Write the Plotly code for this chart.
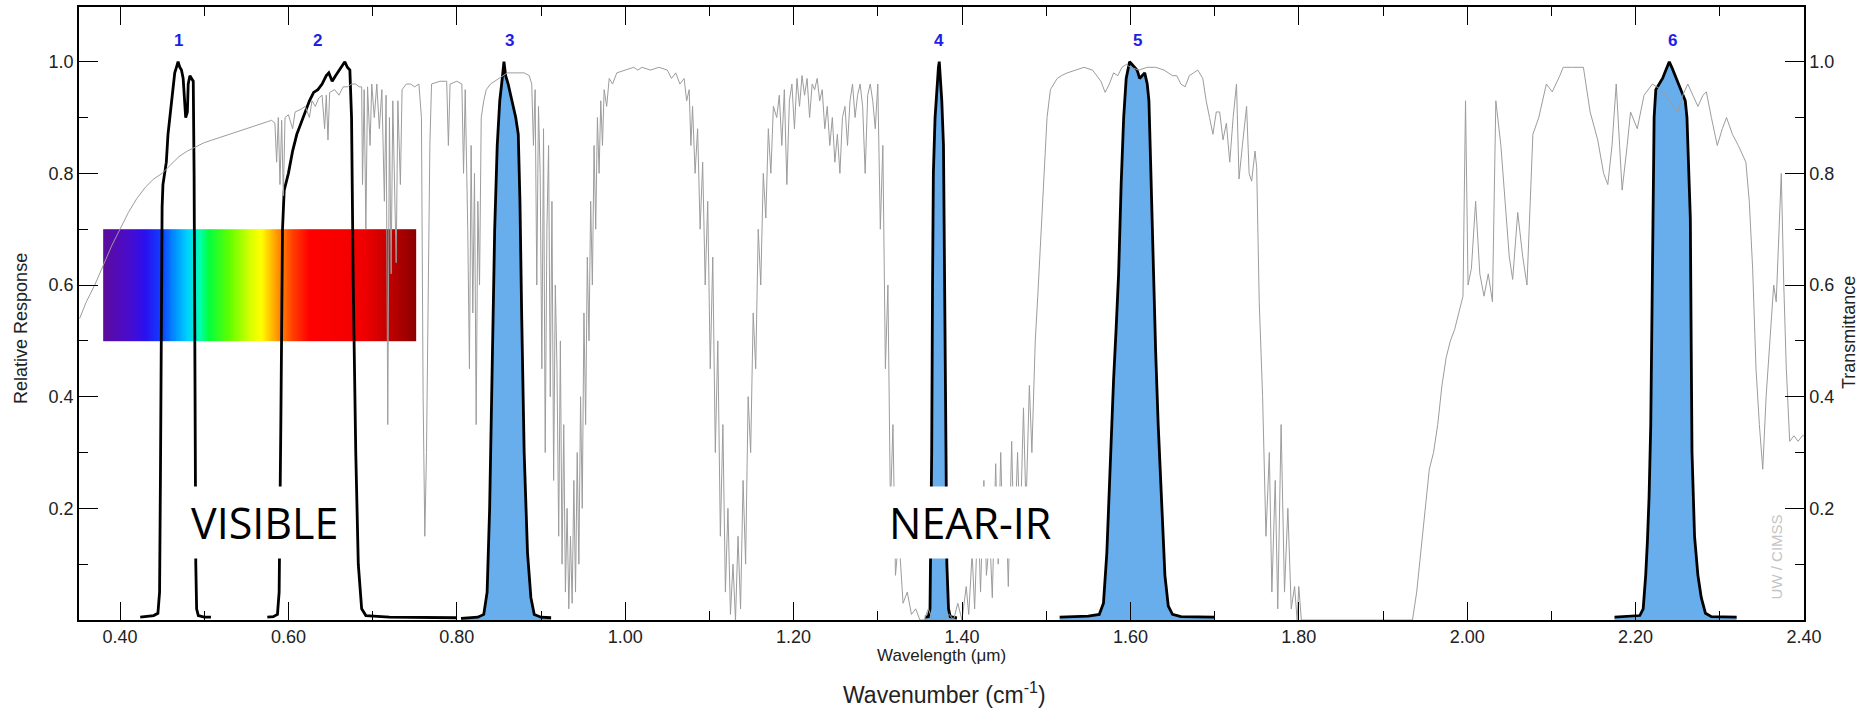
import numpy as np
import plotly.graph_objects as go

# ---------------- data ----------------
band_names = ["1", "2", "3", "4", "5", "6"]
band_label_x = [0.470, 0.634, 0.862, 1.373, 1.608, 2.244]
band_label_y = 1.038
band_filled = [False, False, True, True, True, True]

band1_wl = [0.424, 0.432, 0.440, 0.445, 0.447, 0.448, 0.449, 0.450, 0.451, 0.453, 0.455, 0.457, 0.459, 0.461,
            0.463, 0.465, 0.467, 0.469, 0.471, 0.473, 0.475, 0.477, 0.478, 0.480, 0.481, 0.483, 0.485,
            0.487, 0.488, 0.489, 0.490, 0.491, 0.493, 0.500, 0.508]
band1_rsr = [0.005, 0.006, 0.008, 0.012, 0.05, 0.25, 0.55, 0.74, 0.78, 0.80, 0.82, 0.87, 0.90, 0.93,
             0.96, 0.98, 0.99, 1.00, 0.99, 0.985, 0.97, 0.93, 0.90, 0.91, 0.96, 0.975, 0.97,
             0.965, 0.80, 0.40, 0.10, 0.02, 0.008, 0.005, 0.005]

band2_wl = [0.575, 0.582, 0.587, 0.589, 0.591, 0.593, 0.595, 0.600, 0.605, 0.610, 0.615, 0.620, 0.625,
            0.630, 0.635, 0.640, 0.645, 0.648, 0.652, 0.656, 0.660, 0.664, 0.667, 0.670, 0.673, 0.675,
            0.677, 0.680, 0.683, 0.687, 0.692, 0.720, 0.760, 0.800]
band2_rsr = [0.005, 0.006, 0.01, 0.05, 0.35, 0.70, 0.77, 0.80, 0.84, 0.87, 0.89, 0.91, 0.93,
             0.945, 0.95, 0.96, 0.975, 0.98, 0.965, 0.975, 0.985, 0.995, 1.00, 0.99, 0.985, 0.90,
             0.60, 0.30, 0.10, 0.02, 0.008, 0.005, 0.004, 0.004]

band3_wl = [0.805, 0.815, 0.825, 0.832, 0.836, 0.839, 0.842, 0.845, 0.848, 0.851, 0.854, 0.856, 0.858,
            0.861, 0.864, 0.867, 0.870, 0.873, 0.875, 0.877, 0.880, 0.884, 0.888, 0.892, 0.900, 0.912]
band3_rsr = [0.003, 0.004, 0.005, 0.01, 0.05, 0.20, 0.45, 0.70, 0.85, 0.93, 0.97, 1.00, 0.975,
             0.96, 0.94, 0.92, 0.90, 0.87, 0.75, 0.55, 0.30, 0.12, 0.04, 0.01, 0.005, 0.004]

band4_wl = [1.356, 1.360, 1.362, 1.364, 1.365, 1.366, 1.368, 1.370, 1.372, 1.373, 1.374, 1.376, 1.378,
            1.379, 1.380, 1.381, 1.382, 1.384, 1.386, 1.394]
band4_rsr = [0.005, 0.006, 0.02, 0.30, 0.60, 0.80, 0.90, 0.95, 0.99, 1.00, 0.98, 0.93, 0.85,
             0.70, 0.50, 0.30, 0.10, 0.02, 0.006, 0.004]

band5_wl = [1.516, 1.530, 1.550, 1.563, 1.568, 1.572, 1.576, 1.580, 1.583, 1.586, 1.589, 1.592, 1.595,
            1.599, 1.602, 1.605, 1.608, 1.611, 1.614, 1.617, 1.620, 1.622, 1.624, 1.627, 1.630, 1.633,
            1.637, 1.641, 1.645, 1.650, 1.660, 1.700]
band5_rsr = [0.005, 0.006, 0.007, 0.01, 0.03, 0.12, 0.28, 0.43, 0.52, 0.62, 0.78, 0.90, 0.97,
             1.00, 0.995, 0.99, 0.985, 0.97, 0.975, 0.98, 0.96, 0.93, 0.82, 0.62, 0.48, 0.35,
             0.20, 0.08, 0.025, 0.01, 0.006, 0.005]

band6_wl = [2.175, 2.190, 2.205, 2.209, 2.212, 2.214, 2.216, 2.218, 2.220, 2.221, 2.222, 2.224, 2.228,
            2.232, 2.236, 2.240, 2.243, 2.247, 2.251, 2.255, 2.259, 2.261, 2.263, 2.265, 2.266, 2.267,
            2.270, 2.274, 2.278, 2.283, 2.290, 2.320]
band6_rsr = [0.005, 0.006, 0.008, 0.02, 0.08, 0.14, 0.22, 0.35, 0.60, 0.80, 0.90, 0.95, 0.96,
             0.97, 0.985, 1.00, 0.99, 0.975, 0.96, 0.945, 0.93, 0.90, 0.82, 0.72, 0.50, 0.30,
             0.15, 0.08, 0.04, 0.012, 0.006, 0.005]

trans_wl = [
    0.352, 0.360, 0.370, 0.380, 0.390, 0.400, 0.410, 0.420, 0.430, 0.440, 0.450, 0.460, 0.470, 0.480,
    0.490, 0.500, 0.510, 0.520, 0.530, 0.540, 0.550, 0.560, 0.570, 0.580, 0.584, 0.586, 0.588, 0.590,
    0.592, 0.594, 0.596, 0.600, 0.605, 0.608, 0.615, 0.620, 0.625, 0.628, 0.632, 0.636, 0.640, 0.643,
    0.645, 0.647, 0.649, 0.655, 0.660, 0.665, 0.670, 0.675, 0.680, 0.684,
    0.687, 0.688, 0.690, 0.692, 0.694, 0.697, 0.699, 0.702, 0.705, 0.708, 0.711, 0.714, 0.716, 0.718,
    0.720, 0.722, 0.724, 0.726, 0.728, 0.730, 0.733, 0.735, 0.740, 0.745, 0.750, 0.755, 0.758, 0.760,
    0.762, 0.764, 0.766, 0.768, 0.770, 0.780, 0.788, 0.790, 0.792, 0.800, 0.806, 0.808, 0.810, 0.813,
    0.815, 0.817, 0.819, 0.821, 0.823, 0.825, 0.827, 0.829, 0.832, 0.835,
    0.840, 0.845, 0.850, 0.855, 0.860, 0.870, 0.880, 0.886, 0.889,
    0.891, 0.893, 0.895, 0.897, 0.899, 0.901, 0.903, 0.905, 0.907, 0.909, 0.911, 0.913, 0.915, 0.917,
    0.919, 0.921, 0.923, 0.925, 0.927, 0.929, 0.931, 0.933, 0.935, 0.937, 0.939, 0.941, 0.943, 0.945,
    0.947, 0.949, 0.951, 0.953, 0.955, 0.957, 0.959, 0.961, 0.963, 0.965, 0.967, 0.969, 0.971, 0.973,
    0.975, 0.978, 0.981, 0.985, 0.990,
    1.000, 1.010, 1.015, 1.020, 1.030, 1.040, 1.050, 1.055, 1.060, 1.065, 1.070, 1.073,
    1.076, 1.078, 1.080, 1.083, 1.086, 1.089, 1.092, 1.095, 1.098, 1.101, 1.104, 1.107, 1.110, 1.113,
    1.116, 1.119, 1.122, 1.125, 1.128, 1.131, 1.134, 1.137, 1.140, 1.143, 1.146, 1.149, 1.152, 1.155,
    1.158, 1.161, 1.164, 1.167, 1.170, 1.173, 1.176, 1.180,
    1.183, 1.186, 1.189, 1.192, 1.195, 1.198, 1.201, 1.204, 1.207, 1.210, 1.213, 1.216, 1.219, 1.222,
    1.225, 1.228, 1.231, 1.234, 1.237, 1.240, 1.243, 1.246, 1.249, 1.252, 1.255, 1.258, 1.261, 1.264,
    1.267, 1.270, 1.273, 1.276, 1.279, 1.282, 1.285, 1.288, 1.291, 1.294, 1.297,
    1.300, 1.303, 1.306, 1.309, 1.312, 1.315, 1.318, 1.321, 1.325, 1.330, 1.335, 1.340, 1.345, 1.350,
    1.355, 1.360, 1.365, 1.375, 1.385, 1.390, 1.395, 1.400, 1.405, 1.408, 1.412, 1.415, 1.419, 1.422,
    1.426, 1.429, 1.433, 1.436, 1.440, 1.443, 1.446, 1.449, 1.452, 1.455, 1.459, 1.462, 1.466, 1.469,
    1.473, 1.476, 1.480, 1.483, 1.487, 1.490, 1.494, 1.497, 1.501, 1.505, 1.509, 1.513, 1.518, 1.525,
    1.535, 1.545, 1.555, 1.560, 1.565, 1.570, 1.575, 1.580, 1.585, 1.590, 1.595, 1.600, 1.610, 1.620,
    1.630, 1.640, 1.650, 1.655, 1.660, 1.665, 1.670, 1.675, 1.680, 1.686, 1.690, 1.694, 1.698, 1.702,
    1.706, 1.710, 1.714, 1.718, 1.722, 1.726, 1.729, 1.733, 1.738, 1.741, 1.744, 1.748, 1.750, 1.753,
    1.757, 1.761, 1.765, 1.768, 1.772, 1.775, 1.779, 1.783, 1.787, 1.791, 1.795, 1.798, 1.800, 1.803,
    1.815, 1.935, 1.940, 1.945, 1.950, 1.955, 1.960, 1.965, 1.970, 1.975, 1.980, 1.985, 1.990, 1.995,
    1.998, 2.001, 2.005, 2.010, 2.015, 2.020, 2.025, 2.030, 2.034, 2.040, 2.045, 2.050, 2.054, 2.060,
    2.066, 2.071, 2.078, 2.085, 2.094, 2.101, 2.110, 2.114, 2.125, 2.138, 2.146, 2.155, 2.162, 2.167,
    2.172, 2.177, 2.181, 2.184, 2.190, 2.194, 2.202, 2.210, 2.220, 2.230, 2.240, 2.250, 2.256, 2.262,
    2.268, 2.274, 2.280, 2.284, 2.290, 2.297, 2.303, 2.308, 2.315, 2.322, 2.331, 2.335, 2.339, 2.343,
    2.347, 2.351, 2.355, 2.360, 2.364, 2.367, 2.370, 2.373, 2.376, 2.379, 2.383, 2.388, 2.393, 2.398,
    2.400]
trans_val = [
    0.54, 0.57, 0.60, 0.635, 0.67, 0.70, 0.73, 0.755, 0.775, 0.79, 0.80, 0.815, 0.83, 0.84,
    0.848, 0.855, 0.86, 0.865, 0.87, 0.875, 0.88, 0.885, 0.89, 0.895, 0.89, 0.82, 0.90, 0.78,
    0.895, 0.76, 0.90, 0.905, 0.88, 0.91, 0.915, 0.92, 0.90, 0.93, 0.92, 0.935, 0.94, 0.88,
    0.94, 0.86, 0.945, 0.95, 0.94, 0.955, 0.955, 0.96, 0.96, 0.955,
    0.955, 0.78, 0.95, 0.70, 0.955, 0.85, 0.96, 0.90, 0.96, 0.88, 0.95, 0.75, 0.94, 0.35,
    0.90, 0.62, 0.93, 0.80, 0.64, 0.93, 0.78, 0.95, 0.96, 0.96, 0.955, 0.96, 0.90, 0.40,
    0.15, 0.30, 0.60, 0.85, 0.96, 0.965, 0.965, 0.85, 0.96, 0.965, 0.96, 0.80, 0.95, 0.70,
    0.45, 0.85, 0.55, 0.80, 0.35, 0.75, 0.60, 0.90, 0.93, 0.95,
    0.96, 0.965, 0.97, 0.975, 0.98, 0.98, 0.98, 0.975, 0.96,
    0.85, 0.95, 0.60, 0.92, 0.80, 0.45, 0.88, 0.30, 0.70, 0.85, 0.40, 0.75, 0.25, 0.60,
    0.45, 0.15, 0.50, 0.10, 0.35, 0.05, 0.20, 0.02, 0.15, 0.03, 0.25, 0.05, 0.30, 0.10,
    0.40, 0.20, 0.55, 0.35, 0.65, 0.50, 0.75, 0.60, 0.85, 0.70, 0.90, 0.80, 0.93, 0.85,
    0.95, 0.92, 0.97, 0.96, 0.98,
    0.985, 0.99, 0.985, 0.99, 0.985, 0.99, 0.985, 0.97, 0.98, 0.96, 0.97, 0.93,
    0.95, 0.85, 0.92, 0.80, 0.88, 0.70, 0.82, 0.60, 0.75, 0.45, 0.65, 0.30, 0.50, 0.15,
    0.35, 0.05, 0.20, 0.01, 0.10, 0.00, 0.15, 0.02, 0.25, 0.10, 0.40, 0.30, 0.55, 0.45,
    0.70, 0.60, 0.80, 0.72, 0.88, 0.80, 0.92, 0.90,
    0.94, 0.85, 0.95, 0.78, 0.93, 0.96, 0.88, 0.97, 0.92, 0.975, 0.94, 0.97, 0.90, 0.96,
    0.95, 0.97, 0.93, 0.95, 0.88, 0.92, 0.85, 0.90, 0.82, 0.87, 0.80, 0.90, 0.92, 0.85,
    0.93, 0.96, 0.90, 0.94, 0.96, 0.92, 0.80, 0.94, 0.96, 0.93, 0.88,
    0.96, 0.70, 0.85, 0.45, 0.60, 0.20, 0.35, 0.08, 0.15, 0.03, 0.05, 0.01, 0.02, 0.00,
    0.00, 0.02, 0.00, 0.00, 0.01, 0.00, 0.03, 0.00, 0.06, 0.01, 0.12, 0.02, 0.20, 0.05,
    0.25, 0.08, 0.15, 0.04, 0.28, 0.10, 0.30, 0.12, 0.22, 0.06, 0.32, 0.12, 0.30, 0.15,
    0.38, 0.20, 0.42, 0.30, 0.50, 0.58, 0.70, 0.80, 0.90, 0.95, 0.96, 0.97, 0.975, 0.98,
    0.985, 0.99, 0.985, 0.975, 0.965, 0.945, 0.96, 0.98, 0.975, 0.99, 0.995, 0.99, 0.985, 0.99,
    0.99, 0.985, 0.975, 0.975, 0.96, 0.955, 0.975, 0.98, 0.985, 0.97, 0.93, 0.90, 0.87, 0.91,
    0.91, 0.86, 0.89, 0.82, 0.90, 0.96, 0.79, 0.85, 0.92, 0.80, 0.786, 0.84, 0.81, 0.57,
    0.40, 0.15, 0.30, 0.05, 0.25, 0.02, 0.35, 0.05, 0.20, 0.02, 0.06, 0.00, 0.06, 0.00,
    0.00, 0.00, 0.05, 0.12, 0.20, 0.27, 0.30, 0.35, 0.42, 0.47, 0.50, 0.52, 0.55, 0.58,
    0.93, 0.60, 0.63, 0.75, 0.62, 0.58, 0.62, 0.57, 0.93, 0.85, 0.75, 0.65, 0.61, 0.73,
    0.65, 0.60, 0.87, 0.90, 0.96, 0.946, 0.975, 0.99, 0.99, 0.99, 0.91, 0.86, 0.80, 0.78,
    0.85, 0.96, 0.85, 0.77, 0.85, 0.91, 0.88, 0.94, 0.96, 0.95, 0.93, 0.91, 0.94, 0.96,
    0.94, 0.92, 0.94, 0.946, 0.90, 0.85, 0.88, 0.90, 0.87, 0.85, 0.82, 0.75, 0.63, 0.45,
    0.35, 0.27, 0.40, 0.52, 0.60, 0.57, 0.70, 0.80, 0.60, 0.45, 0.32, 0.33, 0.32, 0.33,
    0.33]

# visible spectrum colour strip: wavelength stops and their colours
spectrum_stop_wl = [0.380, 0.410, 0.430, 0.450, 0.465, 0.480, 0.495, 0.505, 0.530, 0.555, 0.568,
                    0.585, 0.605, 0.625, 0.690, 0.720, 0.752]
spectrum_stop_col = ["#5c0c9c", "#4a0ccc", "#2a10f0", "#1040ff", "#0090ff", "#00d0ff", "#00ffb0",
                     "#00ff40", "#60ff00", "#d8ff00", "#ffff00", "#ffa000", "#ff4000", "#ff0000",
                     "#f00000", "#c00000", "#8c0000"]
spectrum_resp = [0.50, 0.70]

region_labels = ["VISIBLE", "NEAR-IR"]
region_label_x = [0.5717, 1.409]
region_label_y = 0.175

credit_text = "UW / CIMSS"
credit_x, credit_y = 2.367, 0.1125

x_range = [0.3513, 2.40]
y_range = [0.0, 1.098]
y_major = [0.2, 0.4, 0.6, 0.8, 1.0]
y_minor = [0.1, 0.3, 0.5, 0.7, 0.9]

# ---------------- figure ----------------
FILL = "#68AEEC"
GRAY = "#9c9c9c"
TXT = "#222222"
FONT = "Liberation Sans, Arial, sans-serif"

fig = go.Figure()

# spectrum strip as heatmap
lo, hi = spectrum_stop_wl[0], spectrum_stop_wl[-1]
edges = np.linspace(lo, hi, 373)
mids = (edges[:-1] + edges[1:]) / 2
cscale = [[(w - lo) / (hi - lo), c] for w, c in zip(spectrum_stop_wl, spectrum_stop_col)]
fig.add_trace(go.Heatmap(x=edges, y=spectrum_resp, z=[mids], colorscale=cscale, zmin=lo, zmax=hi,
                         showscale=False, hoverinfo="skip"))

bands = [(band1_wl, band1_rsr), (band2_wl, band2_rsr), (band3_wl, band3_rsr),
         (band4_wl, band4_rsr), (band5_wl, band5_rsr), (band6_wl, band6_rsr)]

for (wl, r), filled in zip(bands, band_filled):
    if filled:
        fig.add_trace(go.Scatter(x=wl, y=r, mode="none", fill="tozeroy", fillcolor=FILL,
                                 hoverinfo="skip", showlegend=False))

fig.add_trace(go.Scatter(x=trans_wl, y=trans_val, mode="lines", line=dict(color=GRAY, width=1),
                         showlegend=False, yaxis="y2"))

for wl, r in bands:
    fig.add_trace(go.Scatter(x=wl, y=r, mode="lines", line=dict(color="black", width=2.8),
                             showlegend=False))

annotations = []
for name, bx in zip(band_names, band_label_x):
    annotations.append(dict(x=bx, y=band_label_y, xref="x", yref="y", text="<b>%s</b>" % name,
                            showarrow=False, font=dict(family=FONT, size=17, color="#1e1ee6")))
for name, lx in zip(region_labels, region_label_x):
    annotations.append(dict(x=lx, y=region_label_y, xref="x", yref="y", text=name, showarrow=False,
                            bgcolor="white", borderpad=6,
                            font=dict(family="Open Sans, sans-serif", size=43, color="black")))
annotations.append(dict(x=credit_x, y=credit_y, xref="x", yref="y", text=credit_text, textangle=-90,
                        showarrow=False, font=dict(family=FONT, size=15, color="#c4c4c4")))
annotations.append(dict(x=0, y=0.4748, xref="paper", yref="paper", xanchor="center", yanchor="middle",
                        xshift=-58, text="Relative Response",
                        textangle=-90, showarrow=False, font=dict(family=FONT, size=18, color=TXT)))
annotations.append(dict(x=1, y=0.468, xref="paper", yref="paper", xanchor="center", yanchor="middle",
                        xshift=45, text="Transmittance",
                        textangle=-90, showarrow=False, font=dict(family=FONT, size=18, color=TXT)))
annotations.append(dict(x=0.5, y=0, xref="paper", yref="paper", xanchor="center", yanchor="middle",
                        yshift=-35, text="Wavelength (\u03bcm)",
                        showarrow=False, font=dict(family=FONT, size=17, color=TXT)))
annotations.append(dict(x=0.502, y=0, xref="paper", yref="paper", xanchor="center", yanchor="middle",
                        yshift=-73, text="Wavenumber (cm<sup>-1</sup>)",
                        showarrow=False, font=dict(family=FONT, size=23, color=TXT)))

axis_common = dict(showline=True, linecolor="black", linewidth=1.5, ticks="inside", tickcolor="black",
                   tickwidth=1.3, showgrid=False, zeroline=False,
                   tickfont=dict(family=FONT, size=18, color=TXT))

fig.update_layout(
    width=1865, height=721,
    margin=dict(l=79, r=61, t=5, b=101),
    paper_bgcolor="white", plot_bgcolor="white",
    showlegend=False,
    annotations=annotations,
    xaxis=dict(range=x_range, tick0=0.4, dtick=0.2, tickformat=".2f", ticklen=18, mirror="ticks",
               minor=dict(dtick=0.1, tick0=0.4, ticklen=9, ticks="inside", tickcolor="black",
                          tickwidth=1.3), **axis_common),
    yaxis=dict(range=y_range, tickvals=y_major, ticktext=["%.1f" % v for v in y_major], ticklen=19,
               minor=dict(tickvals=y_minor, ticklen=9, ticks="inside", tickcolor="black", tickwidth=1.3),
               mirror=True, **axis_common),
    yaxis2=dict(range=y_range, overlaying="y", side="right", tickvals=y_major,
                ticktext=["%.1f" % v for v in y_major], ticklen=19,
                minor=dict(tickvals=y_minor, ticklen=9, ticks="inside", tickcolor="black", tickwidth=1.3),
                **axis_common),
)

fig.write_html("out.html", config={"displayModeBar": False},
               post_script="document.body.style.margin='0px';")
